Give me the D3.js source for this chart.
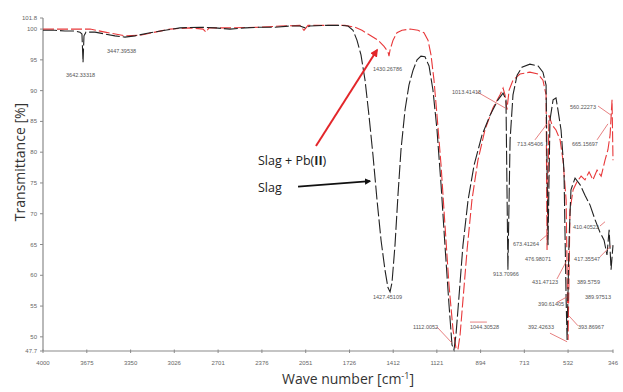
<!DOCTYPE html>
<html><head><meta charset="utf-8">
<script src="https://cdn.jsdelivr.net/npm/d3@7"></script>
<style>html,body{margin:0;padding:0;background:#fff;}svg{display:block;}</style>
</head><body>
<svg id="chart" width="623" height="392"></svg>
<script>
// ---- data (wavenumber cm^-1, transmittance %) ----
const slag = [
[4000,99.8],[3911,99.8],[3837,99.7],[3763,99.7],[3726,99.5],[3711,99.2],[3703,94.6],[3696,98.9],[3681,99.5],
[3614,99.5],[3540,99.2],[3466,98.9],[3392,98.7],[3318,98.9],[3206,99.4],[3095,99.8],[2984,100.2],[2835,100.3],
[2724,100.2],[2613,100.0],[2502,100.2],[2390,100.3],[2279,100.3],[2168,100.5],[2094,100.5],[2056,100.2],[2019,100.5],
[1908,100.6],[1797,100.6],[1737,100.5],[1700,99.8],[1671,98.2],[1641,95.8],[1611,91.7],[1582,86.0],[1552,79.5],
[1522,72.2],[1493,65.7],[1467,60.9],[1447,58.0],[1433,57.3],[1420,58.8],[1400,64.9],[1380,73.1],[1360,80.4],
[1333,86.9],[1307,90.9],[1280,93.3],[1253,95.0],[1227,95.6],[1200,95.5],[1173,94.0],[1147,90.1],[1120,83.6],
[1093,74.7],[1067,64.9],[1040,55.2],[1020,48.7],[1007,47.9],[996,50.3],[983,56.8],[967,64.9],[946,72.2],
[921,77.9],[888,82.8],[855,86.0],[822,88.5],[801,89.6],[789,88.5],[781,60.9],[772,82.0],[760,89.3],[743,92.5],
[723,93.8],[690,94.3],[656,94.0],[636,93.0],[623,90.9],[615,64.9],[607,85.2],[594,88.5],[582,88.8],[574,86.9],
[561,83.6],[549,77.1],[540,56.0],[536,49.5],[528,65.7],[520,73.9],[503,75.8],[482,74.7],[462,73.0],[441,71.4],
[420,69.0],[400,67.0],[383,65.7],[371,63.3],[362,67.4],[354,60.9],[346,64.9]
];
const slagPb = [
[4000,100.0],[3874,100.0],[3726,100.0],[3651,100.0],[3540,99.5],[3392,98.9],[3280,99.0],[3169,99.5],[3058,100.0],
[2910,100.2],[2813,100.0],[2791,99.5],[2769,100.2],[2613,100.2],[2390,100.3],[2242,100.5],[2094,100.6],[2064,99.8],
[2034,100.6],[1871,100.6],[1760,100.6],[1686,100.3],[1634,99.8],[1574,99.0],[1515,98.2],[1473,97.2],[1447,96.3],
[1440,95.6],[1433,96.6],[1413,98.2],[1387,99.4],[1353,99.8],[1300,100.0],[1247,99.8],[1207,99.4],[1180,98.2],
[1160,95.8],[1140,91.7],[1120,86.0],[1093,77.9],[1067,68.2],[1040,58.4],[1013,51.1],[996,48.2],[988,47.9],
[979,50.3],[967,56.0],[950,64.1],[930,72.2],[905,78.7],[876,83.6],[843,87.2],[814,89.3],[801,90.4],[793,89.3],
[785,86.9],[776,90.1],[760,91.7],[731,92.7],[690,93.0],[656,92.7],[636,91.7],[623,89.3],[619,64.1],[611,86.0],
[598,84.4],[582,83.6],[565,82.0],[553,78.7],[540,72.2],[532,49.5],[524,70.6],[511,73.9],[495,75.2],[478,76.1],
[462,75.5],[445,76.8],[429,75.5],[412,77.1],[395,76.1],[379,78.7],[367,80.4],[358,82.8],[350,88.5],[346,78.7]
];
const xTickValues = [4000,3675,3350,3026,2701,2376,2051,1726,1412,1121,894,713,532,346];
const yTickValues = [101.8,100,95,90,85,80,75,70,65,60,55,50,47.7];
// peak labels: text, label position (cm-1, %), optional leader line from/to
const peakLabels = [
["3642.33318",3829,92.2],["3447.39538",3525,96.1],["1430.26786",1552,93.2],["1427.45109",1552,56.2],
["1112.0052",1280,51.3,1120,51.6,1020,49.0],["1044.30528",938,51.3,938,52.4,868,52.4],
["1013.41418",1020,89.4,909,89.8,793,87.2],["913.70966",843,59.9],
["713.45406",743,81.0,669,82.0,619,84.6],["665.15697",516,81.0,412,82.0,367,84.6],
["560.22273",524,87.0,408,87.5,350,85.9],["673.41264",760,64.8,648,65.6,615,66.7],
["476.98071",710,62.3],["431.47123",681,58.6,578,59.4,540,62.2],
["410.40523",512,67.5,400,68.0,379,68.7],["417.35547",507,62.3,400,63.0,354,64.8],
["389.5759",495,58.6],["389.97513",462,56.2],["390.61405",656,55.0,578,55.6,536,56.5],
["392.42633",698,51.3,607,50.6,536,49.2],["393.86967",491,51.3,491,51.8,528,53.4]
];

// ---- layout ----
const svg = d3.select("#chart");
const x = d3.scaleLinear().domain([4000,1500,1000,346]).range([43,380,455,613]);
const y = d3.scaleLinear().domain([47.7,101.8]).range([351,18]);

const defs = svg.append("defs");
function marker(id,color){
  defs.append("marker").attr("id",id).attr("viewBox","0 0 10 10").attr("refX",8).attr("refY",5)
    .attr("markerWidth",4).attr("markerHeight",4).attr("orient","auto")
    .append("path").attr("d","M0,0L10,5L0,10z").attr("fill",color);
}
marker("arR","#e3262a"); marker("arK","#111");

// axes
const axisColor = "#8a8a8a";
svg.append("line").attr("x1",x(4000)).attr("x2",x(4000)).attr("y1",y(101.8)).attr("y2",y(47.7))
  .attr("stroke",axisColor).attr("stroke-width",1.2);
svg.append("line").attr("x1",x(4000)).attr("x2",x(346)).attr("y1",y(47.7)).attr("y2",y(47.7))
  .attr("stroke",axisColor).attr("stroke-width",1.2);

const yt = svg.append("g");
yTickValues.forEach(v=>{
  yt.append("line").attr("x1",x(4000)-3).attr("x2",x(4000)).attr("y1",y(v)).attr("y2",y(v)).attr("stroke",axisColor);
  yt.append("text").attr("x",x(4000)-6).attr("y",y(v)+2).attr("text-anchor","end")
    .attr("font-family","Liberation Sans, sans-serif").attr("font-size",6).attr("fill","#666")
    .text(v===100?"100":String(v));
});
const xt = svg.append("g");
xTickValues.forEach(v=>{
  xt.append("line").attr("x1",x(v)).attr("x2",x(v)).attr("y1",y(47.7)-1.5).attr("y2",y(47.7)+2).attr("stroke",axisColor);
  xt.append("text").attr("x",x(v)).attr("y",y(47.7)+14).attr("text-anchor","middle")
    .attr("font-family","Liberation Sans, sans-serif").attr("font-size",6).attr("fill","#666")
    .text(String(v));
});

// series
const line = d3.line().x(d=>x(d[0])).y(d=>y(d[1]));
svg.append("path").datum(slagPb).attr("d",line).attr("fill","none")
  .attr("stroke","#e8383a").attr("stroke-width",1.1).attr("stroke-dasharray","11,3");
svg.append("path").datum(slag).attr("d",line).attr("fill","none")
  .attr("stroke","#222").attr("stroke-width",1.1).attr("stroke-dasharray","14,3");

// peak labels
const pl = svg.append("g");
peakLabels.forEach(p=>{
  if(p.length>3){
    pl.append("line").attr("x1",x(p[3])).attr("y1",y(p[4])).attr("x2",x(p[5])).attr("y2",y(p[6]))
      .attr("stroke","#e06060").attr("stroke-width",0.8);
  }
  pl.append("text").attr("x",x(p[1])).attr("y",y(p[2]))
    .attr("font-family","Liberation Sans, sans-serif").attr("font-size",5.5).attr("fill","#555").text(p[0]);
});

// legend-like annotations with arrows
svg.append("line").attr("x1",x(1975)).attr("y1",y(81.0)).attr("x2",x(1522)).attr("y2",y(96.6))
  .attr("stroke","#e3262a").attr("stroke-width",2).attr("marker-end","url(#arR)");
svg.append("line").attr("x1",x(2108)).attr("y1",y(74.4)).attr("x2",x(1574)).attr("y2",y(75.3))
  .attr("stroke","#111").attr("stroke-width",1.6).attr("marker-end","url(#arK)");
const t1 = svg.append("text").attr("x",x(2405)).attr("y",y(77.9))
  .attr("font-family","Open Sans, sans-serif").attr("font-size",12.5).attr("fill","#222");
t1.append("tspan").text("Slag + Pb(");
t1.append("tspan").attr("font-weight","bold").text("II");
t1.append("tspan").text(")");
svg.append("text").attr("x",x(2405)).attr("y",y(73.5))
  .attr("font-family","Open Sans, sans-serif").attr("font-size",12.5).attr("fill","#222").text("Slag");

// axis titles
svg.append("text").attr("transform","translate(25,162) rotate(-90)").attr("text-anchor","middle")
  .attr("font-family","Open Sans, sans-serif").attr("font-size",14).attr("fill","#333").text("Transmittance [%]");
const xtitle = svg.append("text").attr("x",348).attr("y",384).attr("text-anchor","middle")
  .attr("font-family","Open Sans, sans-serif").attr("font-size",14).attr("fill","#333");
xtitle.append("tspan").text("Wave number [cm");
xtitle.append("tspan").attr("font-size",9).attr("dy",-5).text("-1");
xtitle.append("tspan").attr("dy",5).text("]");
</script>
</body></html>
